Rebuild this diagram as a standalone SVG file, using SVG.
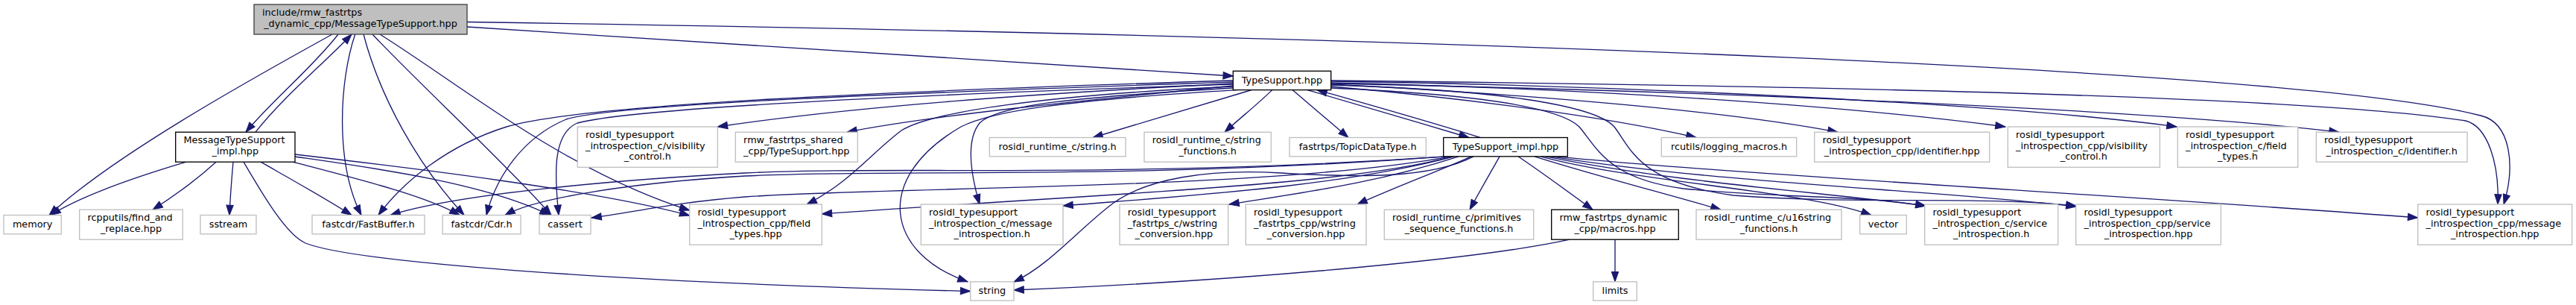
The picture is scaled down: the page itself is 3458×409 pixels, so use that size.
<svg xmlns="http://www.w3.org/2000/svg" width="3458" height="409" viewBox="0 0 3458 409">
<style>
.n rect{fill:#fff;stroke:#bfbfbf;stroke-width:1.33}
.d rect{stroke:#000}
.r rect{fill:#bfbfbf;stroke:#404040}
text{font-family:"DejaVu Sans","Liberation Sans",sans-serif;font-size:12.8px;fill:#000}
.c{text-anchor:middle}
#edges path{fill:none;stroke:#191970;stroke-width:1.33;marker-end:url(#a)}
</style>
<defs>
<marker id="a" markerUnits="userSpaceOnUse" markerWidth="13.3" markerHeight="9.4" viewBox="0 0 13.3 9.4" refX="13.3" refY="4.7" orient="auto" overflow="visible">
<path d="M0,0 L13.3,4.7 L0,9.4 z" fill="#191970" stroke="#191970" stroke-width="1"/>
</marker>
</defs>
<rect width="3458" height="409" fill="#fff"/>
<g id="edges">
<path d="M454,46 C420,90 365,135 330,177.2"/>
<path d="M343,177.2 C380,130 435,85 472,46"/>
<path d="M446,46 C330,110 150,210 66,288.5"/>
<path d="M476.7,46 C455,110 450,220 485,288.5"/>
<path d="M488,46 C510,130 560,220 623,288.5"/>
<path d="M500,46 C560,110 680,220 740,288.5"/>
<path d="M510,46 C620,115 760,230 925.7,282"/>
<path d="M627,36 C1000,60 1400,88 1655.3,102"/>
<path d="M627,29.5 C2000,50 3100,95 3330,155 C3372,165 3376,225 3361,274"/>
<path d="M250,217.2 C180,238 110,262 68,288.5"/>
<path d="M290,217.2 C265,240 235,262 205,281.2"/>
<path d="M313,217.2 C311,240 309,265 308,288.5"/>
<path d="M350,217.2 C390,240 435,265 472,288.5"/>
<path d="M327,217.2 C355,265 385,315 410,326 C470,350 800,378 1302.7,390.5"/>
<path d="M393,217.2 C480,240 570,262 617,288.5"/>
<path d="M396,210 C500,225 650,245 738,288.5"/>
<path d="M396,207 C550,225 800,255 925.7,289"/>
<path d="M1655.3,112 C1400,125 1150,142 963.3,170"/>
<path d="M1655.3,115 C1450,135 1250,155 1137,177.2"/>
<path d="M1680,120.6 C1610,142 1540,163 1467,184.5"/>
<path d="M1707.7,120.6 C1688,140 1665,158 1644,177.2"/>
<path d="M1735,120.6 C1760,142 1785,163 1810,184.5"/>
<path d="M1755,120.6 C1830,142 1900,163 1972,184.5"/>
<path d="M1987,184.5 C1915,162 1840,141 1768,120.6"/>
<path d="M1655.3,108 C1200,122 780,140 680,170 C600,195 540,245 508,288.5"/>
<path d="M1655.3,110 C1200,125 820,140 760,160 C700,185 665,240 653,288.5"/>
<path d="M1655.3,113 C1200,128 850,145 775,165 C740,180 745,240 750,288.5"/>
<path d="M1655.3,116 C1400,128 1250,150 1210,175 C1170,205 1140,245 1083,274"/>
<path d="M1655.3,118 C1450,130 1340,140 1315,165 C1295,190 1305,240 1315,274"/>
<path d="M1660,120.6 C1420,135 1330,150 1290,170 C1170,240 1190,340 1299,377.8"/>
<path d="M1786.7,116 C1950,130 2150,155 2277,184.5"/>
<path d="M1786.7,113 C2000,124 2300,145 2467,177.2"/>
<path d="M1786.7,111 C2100,118 2450,138 2692,170"/>
<path d="M1786.7,109 C2200,115 2700,140 2922,170"/>
<path d="M1786.7,112 C2300,122 2900,148 3140,177.2"/>
<path d="M1786.7,108 C2500,116 3100,130 3310,162 C3340,170 3355,220 3353,274"/>
<path d="M1786.7,118 C1950,125 2090,140 2120,170 C2145,200 2160,240 2260,253 C2380,265 2500,262 2585,276"/>
<path d="M1786.7,114 C2000,120 2140,140 2167,170 C2190,200 2200,245 2327,262 C2500,275 2650,262 2787,276"/>
<path d="M2013,209.8 C2000,233 1986,257 1973,281.2"/>
<path d="M2038,209.8 C2072,233 2105,257 2138,281.2"/>
<path d="M2060,209.8 C2140,235 2230,258 2310,281.2"/>
<path d="M2068,209.8 C2200,245 2420,255 2512,288.5"/>
<path d="M2075,209.8 C2250,245 2450,258 2585,276"/>
<path d="M2082,209.8 C2300,245 2600,255 2787,277"/>
<path d="M2090,209.8 C2300,232 2900,265 3245.7,292"/>
<path d="M1978,209.8 C1920,240 1820,238 1720,232 C1620,226 1540,240 1495,272 C1450,305 1410,355 1361,378"/>
<path d="M1950,209.8 C1800,250 1500,258 1103.3,287"/>
<path d="M1952,209.8 C1800,250 1600,262 1427,276"/>
<path d="M1958,209.8 C1850,245 1750,258 1650,274"/>
<path d="M1975,209.8 C1930,230 1870,252 1822,274"/>
<path d="M1940,209.8 C1500,240 1200,222 1000,232 C850,240 620,258 524,288.5"/>
<path d="M1942,209.8 C1500,242 1200,226 1000,236 C850,245 720,265 678,288.5"/>
<path d="M1948,209.8 C1700,255 1200,250 1000,264 C900,272 850,285 794,292"/>
<path d="M2168,321.2 L2168,377.8"/>
<path d="M2107,321.2 C2000,345 1700,375 1361,389"/>
</g>
<g id="n_main" class="n r"><rect x="341" y="6" width="286" height="40"/><text x="352" y="20.8">include/rmw_fastrtps</text><text x="484" y="35.7" class="c">_dynamic_cpp/MessageTypeSupport.hpp</text></g>
<g id="n_ts" class="n d"><rect x="1655.3" y="95.3" width="131.4" height="25.3"/><text x="1721" y="111.5" class="c">TypeSupport.hpp</text></g>
<g id="n_mi" class="n d"><rect x="235.7" y="177.2" width="160.3" height="40"/><text x="246.5" y="192.2">MessageTypeSupport</text><text x="315.85" y="206.9" class="c">_impl.hpp</text></g>
<g id="n_visc" class="n"><rect x="775.3" y="170" width="188" height="54.3"/><text x="786.1" y="185">rosidl_typesupport</text><text x="786.1" y="199.7">_introspection_c/visibility</text><text x="869.3" y="214" class="c">_control.h</text></g>
<g id="n_sharedts" class="n"><rect x="987.3" y="177.2" width="164" height="40"/><text x="998.1" y="192.2">rmw_fastrtps_shared</text><text x="1069.3" y="206.9" class="c">_cpp/TypeSupport.hpp</text></g>
<g id="n_stringh" class="n"><rect x="1328.3" y="184.5" width="182.7" height="25.3"/><text x="1419.65" y="200.5" class="c">rosidl_runtime_c/string.h</text></g>
<g id="n_strfn" class="n"><rect x="1536" y="177.2" width="170.3" height="40"/><text x="1546.8" y="192.2">rosidl_runtime_c/string</text><text x="1621.15" y="206.9" class="c">_functions.h</text></g>
<g id="n_topic" class="n"><rect x="1731" y="184.5" width="183.3" height="25.3"/><text x="1822.65" y="200.5" class="c">fastrtps/TopicDataType.h</text></g>
<g id="n_ti" class="n d"><rect x="1937.7" y="184.5" width="166.6" height="25.3"/><text x="2021" y="200.5" class="c">TypeSupport_impl.hpp</text></g>
<g id="n_log" class="n"><rect x="2230.3" y="184.5" width="181.4" height="25.3"/><text x="2321" y="200.5" class="c">rcutils/logging_macros.h</text></g>
<g id="n_idhpp" class="n"><rect x="2435.7" y="177.2" width="235" height="40"/><text x="2446.5" y="192.2">rosidl_typesupport</text><text x="2553.2" y="206.9" class="c">_introspection_cpp/identifier.hpp</text></g>
<g id="n_viscpp" class="n"><rect x="2695.3" y="170" width="204" height="54.3"/><text x="2706.1" y="185">rosidl_typesupport</text><text x="2706.1" y="199.7">_introspection_cpp/visibility</text><text x="2797.3" y="214" class="c">_control.h</text></g>
<g id="n_fth" class="n"><rect x="2923.3" y="170" width="161.4" height="54.3"/><text x="2934.1" y="185">rosidl_typesupport</text><text x="2934.1" y="199.7">_introspection_c/field</text><text x="3004" y="214" class="c">_types.h</text></g>
<g id="n_idh" class="n"><rect x="3109.3" y="177.2" width="202.7" height="40"/><text x="3120.1" y="192.2">rosidl_typesupport</text><text x="3210.65" y="206.9" class="c">_introspection_c/identifier.h</text></g>
<g id="n_memory" class="n"><rect x="5" y="288.5" width="77.3" height="25.3"/><text x="43.65" y="304.5" class="c">memory</text></g>
<g id="n_rcpp" class="n"><rect x="106.7" y="281.2" width="138.6" height="40"/><text x="117.5" y="296.2">rcpputils/find_and</text><text x="176" y="310.9" class="c">_replace.hpp</text></g>
<g id="n_sstream" class="n"><rect x="269" y="288.5" width="75" height="25.3"/><text x="306.5" y="304.5" class="c">sstream</text></g>
<g id="n_fastbuf" class="n"><rect x="419" y="288.5" width="151" height="25.3"/><text x="494.5" y="304.5" class="c">fastcdr/FastBuffer.h</text></g>
<g id="n_cdr" class="n"><rect x="594" y="288.5" width="105" height="25.3"/><text x="646.5" y="304.5" class="c">fastcdr/Cdr.h</text></g>
<g id="n_cassert" class="n"><rect x="724" y="288.5" width="69" height="25.3"/><text x="758.5" y="304.5" class="c">cassert</text></g>
<g id="n_fthpp" class="n"><rect x="925.7" y="274" width="177.6" height="54.3"/><text x="936.5" y="289">rosidl_typesupport</text><text x="936.5" y="303.7">_introspection_cpp/field</text><text x="1014.5" y="318" class="c">_types.hpp</text></g>
<g id="n_mih_c" class="n"><rect x="1236.3" y="274" width="190.7" height="54.3"/><text x="1247.1" y="289">rosidl_typesupport</text><text x="1247.1" y="303.7">_introspection_c/message</text><text x="1331.65" y="318" class="c">_introspection.h</text></g>
<g id="n_wsc" class="n"><rect x="1503" y="274" width="145.7" height="54.3"/><text x="1513.8" y="289">rosidl_typesupport</text><text x="1513.8" y="303.7">_fastrtps_c/wstring</text><text x="1575.85" y="318" class="c">_conversion.hpp</text></g>
<g id="n_wscpp" class="n"><rect x="1672.3" y="274" width="161.7" height="54.3"/><text x="1683.1" y="289">rosidl_typesupport</text><text x="1683.1" y="303.7">_fastrtps_cpp/wstring</text><text x="1753.15" y="318" class="c">_conversion.hpp</text></g>
<g id="n_prim" class="n"><rect x="1858.3" y="281.2" width="200.4" height="40"/><text x="1869.1" y="296.2">rosidl_runtime_c/primitives</text><text x="1958.5" y="310.9" class="c">_sequence_functions.h</text></g>
<g id="n_macros" class="n d"><rect x="2082.7" y="281.2" width="170.6" height="40"/><text x="2093.5" y="296.2">rmw_fastrtps_dynamic</text><text x="2168" y="310.9" class="c">_cpp/macros.hpp</text></g>
<g id="n_u16" class="n"><rect x="2277" y="281.2" width="195" height="40"/><text x="2287.8" y="296.2">rosidl_runtime_c/u16string</text><text x="2374.5" y="310.9" class="c">_functions.h</text></g>
<g id="n_vector" class="n"><rect x="2496.7" y="288.5" width="62.6" height="25.3"/><text x="2528" y="304.5" class="c">vector</text></g>
<g id="n_svch" class="n"><rect x="2583.7" y="274" width="179" height="54.3"/><text x="2594.5" y="289">rosidl_typesupport</text><text x="2594.5" y="303.7">_introspection_c/service</text><text x="2673.2" y="318" class="c">_introspection.h</text></g>
<g id="n_svchpp" class="n"><rect x="2786.7" y="274" width="194.6" height="54.3"/><text x="2797.5" y="289">rosidl_typesupport</text><text x="2797.5" y="303.7">_introspection_cpp/service</text><text x="2884" y="318" class="c">_introspection.hpp</text></g>
<g id="n_mihpp" class="n"><rect x="3245.7" y="274" width="207" height="54.3"/><text x="3256.5" y="289">rosidl_typesupport</text><text x="3256.5" y="303.7">_introspection_cpp/message</text><text x="3349.2" y="318" class="c">_introspection.hpp</text></g>
<g id="n_string" class="n"><rect x="1302.7" y="377.8" width="58.3" height="25.3"/><text x="1331.85" y="393.8" class="c">string</text></g>
<g id="n_limits" class="n"><rect x="2138.7" y="377.8" width="58.6" height="25.3"/><text x="2168" y="393.8" class="c">limits</text></g>
</svg>
